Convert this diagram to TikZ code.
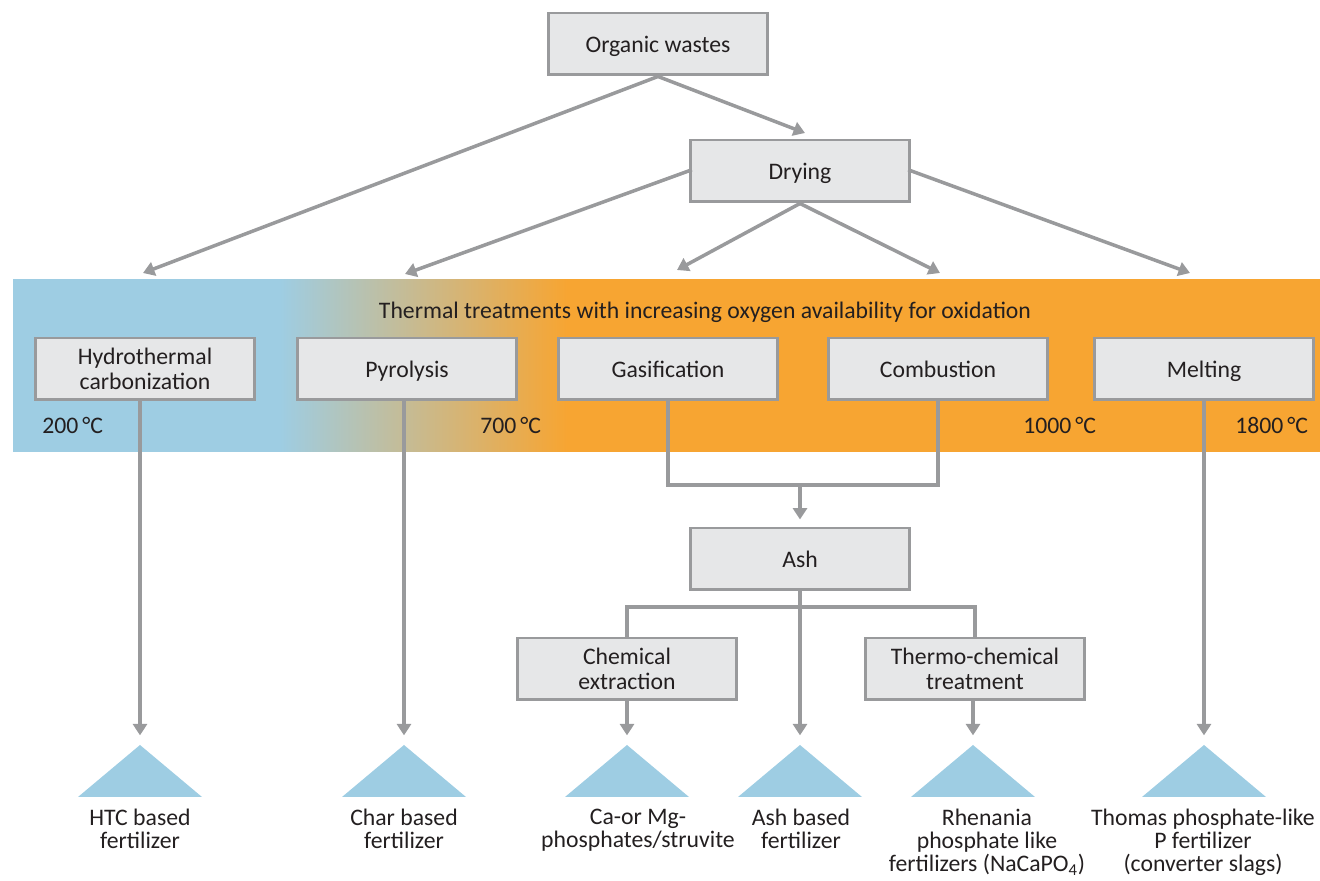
\documentclass[tikz,border=0pt]{standalone}
\usepackage{fontspec}
\setmainfont{Carlito}
\usetikzlibrary{arrows.meta}

\definecolor{boxgray}{HTML}{E6E7E8}
\definecolor{linegray}{HTML}{999A9C}
\definecolor{bandblue}{HTML}{9ECDE3}
\definecolor{bandorange}{HTML}{F7A532}
\definecolor{inkgray}{HTML}{231F20}

% band colour: blue on the left, orange from Gasification on
% (the path box is mapped onto 25bp--75bp of the shading)
\pgfdeclarehorizontalshading{bandshade}{100bp}{color(0bp)=(bandblue); color(35.2bp)=(bandblue);
  color(46.2bp)=(bandorange); color(100bp)=(bandorange)}

\tikzset{
  procbox/.style={draw=linegray, line width=1.7pt, fill=boxgray, minimum width=4.4cm, minimum height=1.24cm,
    align=center, inner sep=2pt, text=inkgray, font=\fontsize{13.5}{14}\selectfont},
  oneline/.style={procbox, text depth=0pt},
  link/.style={draw=linegray, line width=2pt},
  conn/.style={link, -{Triangle[length=6.5pt,width=8pt]}},
  fert/.style={fill=bandblue},
  fertlabel/.style={anchor=north, align=center, inner sep=0pt, text=inkgray, font=\fontsize{13.5}{13}\selectfont},
  templabel/.style={anchor=west, inner sep=0pt, text=inkgray, font=\fontsize{13.5}{14}\selectfont}
}

\begin{document}
\begin{tikzpicture}[x=0.02cm,y=-0.02cm]
      \useasboundingbox (0,0) rectangle (1320,881);

      % temperature band
      \shade[shading=bandshade] (13,280) rectangle (1320,452);
      \node[font=\fontsize{13.5}{14}\selectfont, text=inkgray] (title) at (705,312) {Thermal treatments with increasing oxygen availability for oxidation};

      \node[oneline] (waste) at (658,44) {Organic wastes};
      \node[oneline] (dry) at (800,171) {Drying};

      \node[procbox] (htc) at (145,369) {Hydrothermal\\carbonization};
      \node[oneline] (pyro) at (407,369) {Pyrolysis};
      \node[oneline] (gasi) at (668,369) {Gasification};
      \node[oneline] (comb) at (938,369) {Combustion};
      \node[oneline] (melt) at (1204,369) {Melting};

      \node[templabel] (t200) at (42,425) {200\,°C};
      \node[templabel] (t700) at (480,425) {700\,°C};
      \node[templabel] (t1000) at (1023,425) {1000\,°C};
      \node[templabel] (t1800) at (1235,425) {1800\,°C};

      \node[oneline] (ash) at (800,559) {Ash};
      \node[procbox] (chem) at (627,669) {Chemical\\extraction};
      \node[procbox] (thermo) at (975,669) {Thermo-chemical\\treatment};

      % arrow ends above the band
      \coordinate (dry-in) at (805,133);
      \coordinate (htc-in) at (143,273);
      \coordinate (pyro-in) at (405,274);
      \coordinate (gasi-in) at (677,270);
      \coordinate (comb-in) at (940,273);
      \coordinate (melt-in) at (1190,273);
      \coordinate (merge) at (800,485);
      \coordinate (split) at (800,607);

      \draw[conn] (waste.south) -- (dry-in);
      \draw[conn] (waste.south) -- (htc-in);
      \draw[conn, shorten <=-2pt] (dry.west) -- (pyro-in);
      \draw[conn] (dry.south) -- (gasi-in);
      \draw[conn] (dry.south) -- (comb-in);
      \draw[conn, shorten <=-2pt] (dry.east) -- (melt-in);

      % fertilizer triangles
      \foreach \n/\x in {f1/140,f2/404,f3/627,f4/800,f5/973,f6/1204}{
        \coordinate (\n) at (\x,745);
        \fill[fert] (\n) -- ++(-62,52) -- ++(124,0) -- cycle;
      }

      \draw[conn, shorten >=5.5pt] (htc.south -| f1) -- (f1);
      \draw[conn, shorten >=5.5pt] (pyro.south -| f2) -- (f2);
      \draw[link] (gasi.south) |- (merge);
      \draw[link] (comb.south) |- (merge);
      \draw[conn, shorten >=4pt] (merge) -- (ash.north);
      \draw[link] (split) -| (chem.north);
      \draw[link] (split) -| (thermo.north);
      \draw[conn, shorten >=5.5pt] (ash.south) -- (f4);
      \draw[conn, shorten >=5.5pt] (chem.south) -- (f3);
      \draw[conn, shorten >=5.5pt] (thermo.south -| f5) -- (f5);
      \draw[conn, shorten >=5.5pt] (melt.south -| f6) -- (f6);

      \node[fertlabel] (l1) at (140,809) {HTC based\\fertilizer};
      \node[fertlabel] (l2) at (404,809) {Char based\\fertilizer};
      \node[fertlabel] (l3) at (638,809) {Ca-or Mg-\\phosphates/struvite};
      \node[fertlabel] (l4) at (801,809) {Ash based\\fertilizer};
      \node[fertlabel] (l5) at (987,809) {Rhenania\\phosphate like\\fertilizers (NaCaPO\textsubscript{4})};
      \node[fertlabel] (l6) at (1203,809) {Thomas phosphate-like\\P fertilizer\\(converter slags)};
\end{tikzpicture}
\end{document}
